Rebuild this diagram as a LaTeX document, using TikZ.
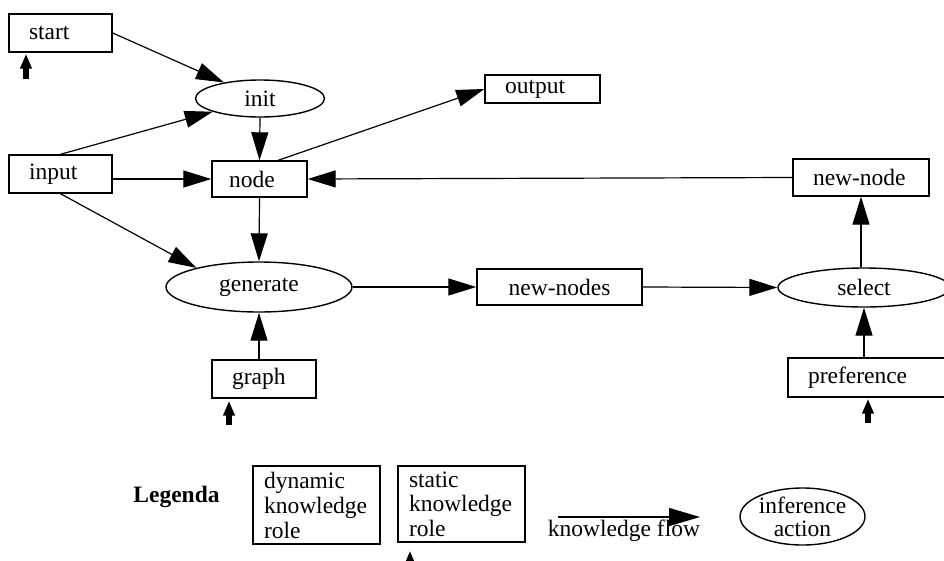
\documentclass[tikz,border=0pt]{standalone}
\usepackage{fontspec}
\setmainfont{Liberation Serif}
\usetikzlibrary{arrows.meta,shapes.geometric}

\tikzset{
  role/.style={draw, line width=1.4pt, rectangle, inner xsep=20pt, inner ysep=0pt, align=left},
  action/.style={draw, line width=1.4pt, ellipse, inner sep=0pt, align=center},
  flow/.style={line width=1.2pt, -{Triangle[length=28pt,width=17pt]}},
  feed/.style={line width=6pt, -{Triangle[length=15pt,width=11pt]}},
}

\begin{document}
\begin{tikzpicture}[x=1pt, y=-1pt, font=\fontsize{23.5}{28}\selectfont]
        \useasboundingbox (0,0) rectangle (944,560);
        \clip (0,0) rectangle (944,560);

        % knowledge roles
        \node[role, text width=63pt, minimum height=38pt] (start) at (60.5, 33) {start};
        \node[role, text width=63pt, minimum height=38pt] (input) at (60.5, 174) {input};
        \node[role, inner xsep=17pt, text width=61pt, minimum height=36pt] (node) at (259.5, 179) {node};
        \node[role, text width=64pt, minimum height=38pt] (graph) at (264, 379) {graph};
        \node[role, text width=75pt, minimum height=28pt] (output) at (542.5, 89) {output};
        \node[role, text width=96pt, minimum height=37pt] (newnode) at (861, 177.5) {new-node};
        \node[role, align=center, text width=125pt, minimum height=36pt] (newnodes) at (559.5, 287) {new-nodes};
        \node[role, text width=122pt, minimum height=39pt] (preference) at (869, 377.5) {preference};

        % inference actions
        \node[action, minimum width=129pt, minimum height=37pt] (init) at (260, 98.5) {init};
        \node[action, minimum width=186pt, minimum height=50pt] (generate) at (259, 287) {generate};
        \node[action, minimum width=172pt, minimum height=39pt] (select) at (864, 287.5) {select};

        % flows
        \draw[flow] (start.east) -- (init);
        \draw[flow] (input.north) -- (init);
        \draw[flow] (input.east |- node) -- (node);
        \draw[flow] (input.south) -- (generate.163);
        \draw[flow] (init.south) -- (node.north);
        \draw[flow] (node.45) -- (output.west);
        \draw[flow] (newnode.west) -- (node.east);
        \draw[flow] (node.south) -- (generate.north);
        \draw[flow] (generate.south |- graph.north) -- (generate.south);
        \draw[flow] (generate.east) -- (newnodes.west);
        \draw[flow] (newnodes.east) -- (select.west);
        \draw[flow] (newnode.south |- select.north) -- (newnode.south);
        \draw[flow] (select.south |- preference.north) -- (select.south);

        % static marks
        \coordinate (start-in) at (26, 79);
        \coordinate (graph-in) at (229, 425);
        \coordinate (preference-in) at (868, 423);
        \draw[feed, shorten >=1pt] (start-in) -- (start-in |- start.south);
        \draw[feed, shorten >=2pt] (graph-in) -- (graph-in |- graph.south);
        \draw[feed, shorten >=1pt] (preference-in) -- (preference-in |- preference.south);

        % legend
        \node[font=\fontsize{23.5}{28}\selectfont\bfseries] (legenda) at (176.5, 497) {Legenda};
        \node[role, font=\fontsize{23.5}{25}\selectfont, inner xsep=11pt, text width=105pt, minimum height=78pt] (dynamic) at (316.5, 505) {dynamic\\knowledge\\role};
        \node[role, font=\fontsize{23.5}{24.5}\selectfont, inner xsep=11pt, text width=105pt, minimum height=76pt] (static) at (461.5, 504) {static\\knowledge\\role};
        \coordinate (static-in) at (410, 570);
        \draw[feed, shorten >=8pt] (static-in) -- (static-in |- static.south);

        \coordinate (kf-tail) at (558, 517);
        \coordinate (kf-head) at (700, 517);
        \draw[flow, -{Triangle[length=31pt,width=18pt]}] (kf-tail) -- (kf-head);
        \node (kf-label) at (624, 531) {knowledge flow};

        \node[action, font=\fontsize{23.5}{23}\selectfont, inner ysep=-4pt, minimum width=125pt, minimum height=57pt] (inference) at (802.5, 516.5) {inference\\action};
    \end{tikzpicture}
\end{document}
